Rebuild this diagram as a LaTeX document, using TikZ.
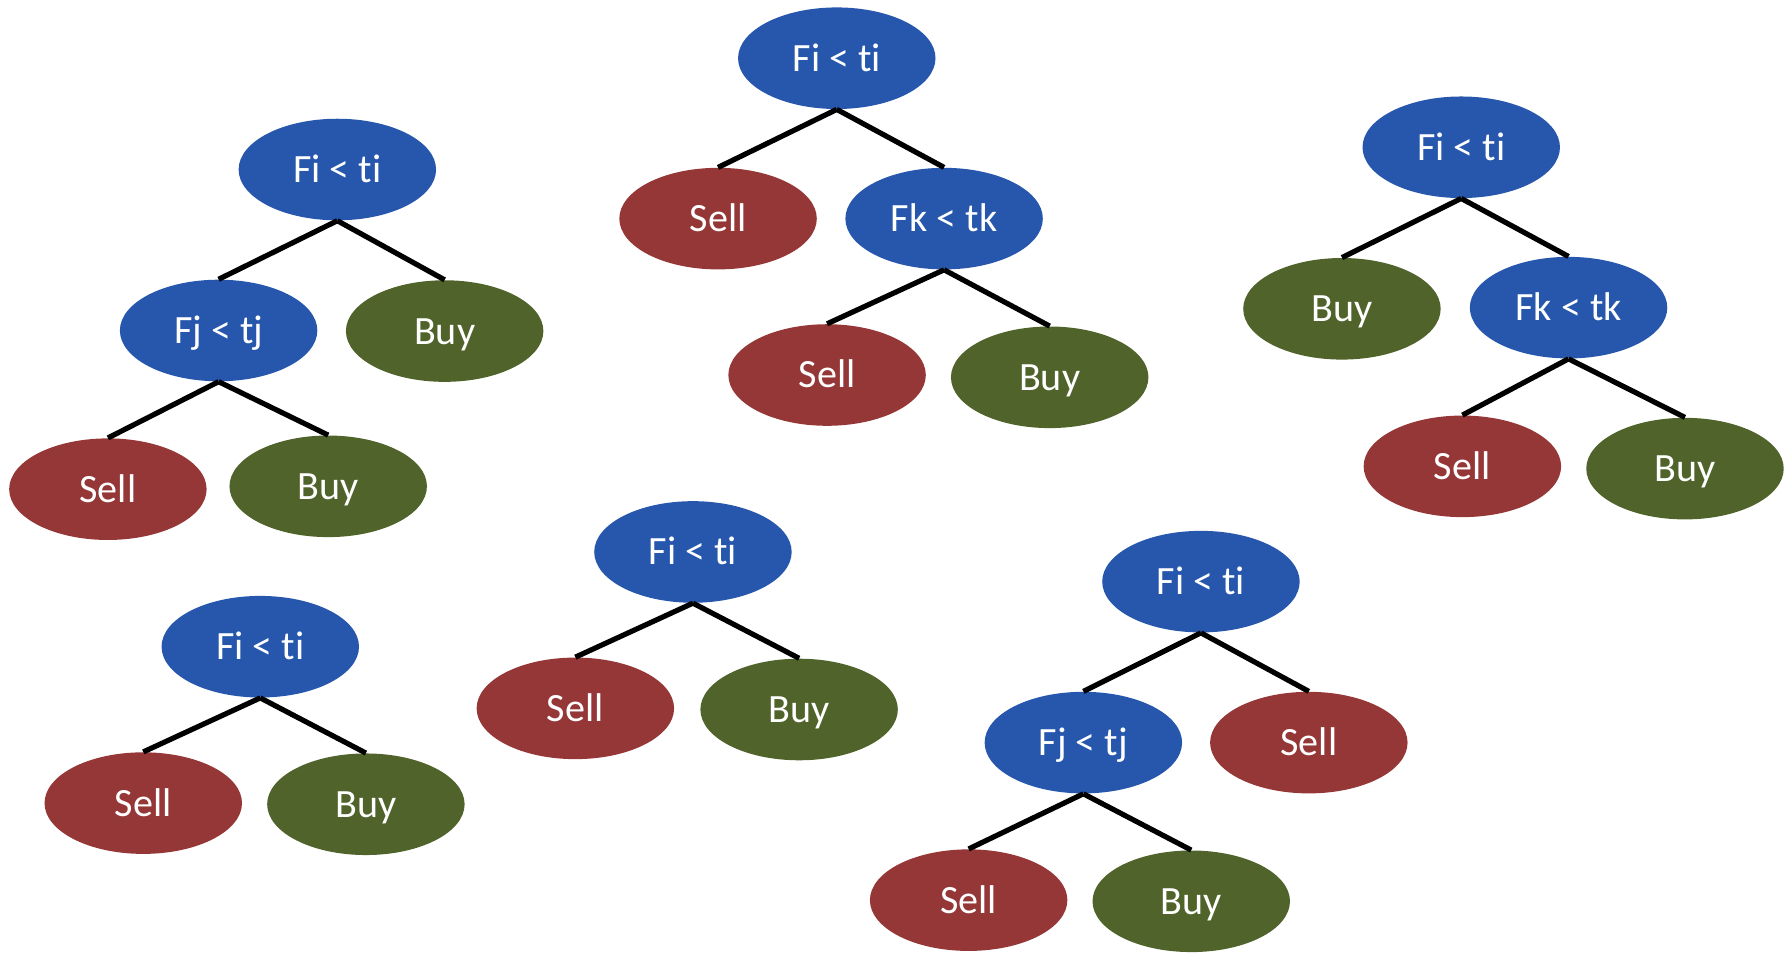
\documentclass[tikz,border=0pt]{standalone}
\usepackage{fontspec}
\setmainfont[Ligatures={NoCommon}]{Carlito}
\usetikzlibrary{shapes.geometric}
\definecolor{nodeblue}{HTML}{2757AC}
\definecolor{nodered}{HTML}{963737}
\definecolor{nodegreen}{HTML}{50632A}
\tikzset{
  leafbase/.style={ellipse, minimum width=3.46cm, minimum height=1.78cm, inner sep=0pt,
    text=white, font=\fontsize{20}{23}\selectfont, text height=12.9pt, text depth=0pt},
  testnode/.style={leafbase, fill=nodeblue},
  sellnode/.style={leafbase, fill=nodered},
  buynode/.style={leafbase, fill=nodegreen},
  edge/.style={draw=black, line width=2.6pt}
}
\begin{document}
\begin{tikzpicture}[x=0.02cm, y=-0.02cm]
\useasboundingbox (0,0) rectangle (1568,835);
% Tree 1
\node[testnode] (a0) at (295.5,148.5) {Fi < ti};
\node[testnode] (a1) at (191.5,289.5) {Fj < tj};
\node[buynode]  (a2) at (389.5,290) {Buy};
\node[sellnode] (a3) at (94.5,428.5) {Sell};
\node[buynode]  (a4) at (287.5,426) {Buy};
\draw[edge] (a0.south) -- (a1.north);
\draw[edge] (a0.south) -- (a2.north);
\draw[edge] (a1.south) -- (a3.north);
\draw[edge] (a1.south) -- (a4.north);
% Tree 2
\node[testnode] (b0) at (733,51) {Fi < ti};
\node[sellnode] (b1) at (629,191.5) {Sell};
\node[testnode] (b2) at (827,191.5) {Fk < tk};
\node[sellnode] (b3) at (724.5,328.5) {Sell};
\node[buynode]  (b4) at (919.5,330.5) {Buy};
\draw[edge] (b0.south) -- (b1.north);
\draw[edge] (b0.south) -- (b2.north);
\draw[edge] (b2.south) -- (b3.north);
\draw[edge] (b2.south) -- (b4.north);
% Tree 3
\node[testnode] (c0) at (1280,129) {Fi < ti};
\node[buynode]  (c1) at (1175.5,270.5) {Buy};
\node[testnode] (c2) at (1374,269.5) {Fk < tk};
\node[sellnode] (c3) at (1281,408.5) {Sell};
\node[buynode]  (c4) at (1476,410.5) {Buy};
\draw[edge] (c0.south) -- (c1.north);
\draw[edge] (c0.south) -- (c2.north);
\draw[edge] (c2.south) -- (c3.north);
\draw[edge] (c2.south) -- (c4.north);
% Tree 4
\node[testnode] (d0) at (228,566.5) {Fi < ti};
\node[sellnode] (d1) at (125.5,703.5) {Sell};
\node[buynode]  (d2) at (320.5,704.5) {Buy};
\draw[edge] (d0.south) -- (d1.north);
\draw[edge] (d0.south) -- (d2.north);
% Tree 5
\node[testnode] (e0) at (607,483.5) {Fi < ti};
\node[sellnode] (e1) at (504,620.5) {Sell};
\node[buynode]  (e2) at (700,621.5) {Buy};
\draw[edge] (e0.south) -- (e1.north);
\draw[edge] (e0.south) -- (e2.north);
% Tree 6
\node[testnode] (f0) at (1052,509.5) {Fi < ti};
\node[testnode] (f1) at (949,650.5) {Fj < tj};
\node[sellnode] (f2) at (1146.5,650.5) {Sell};
\node[sellnode] (f3) at (848.5,788.5) {Sell};
\node[buynode]  (f4) at (1043.5,789.5) {Buy};
\draw[edge] (f0.south) -- (f1.north);
\draw[edge] (f0.south) -- (f2.north);
\draw[edge] (f1.south) -- (f3.north);
\draw[edge] (f1.south) -- (f4.north);
\end{tikzpicture}
\end{document}
